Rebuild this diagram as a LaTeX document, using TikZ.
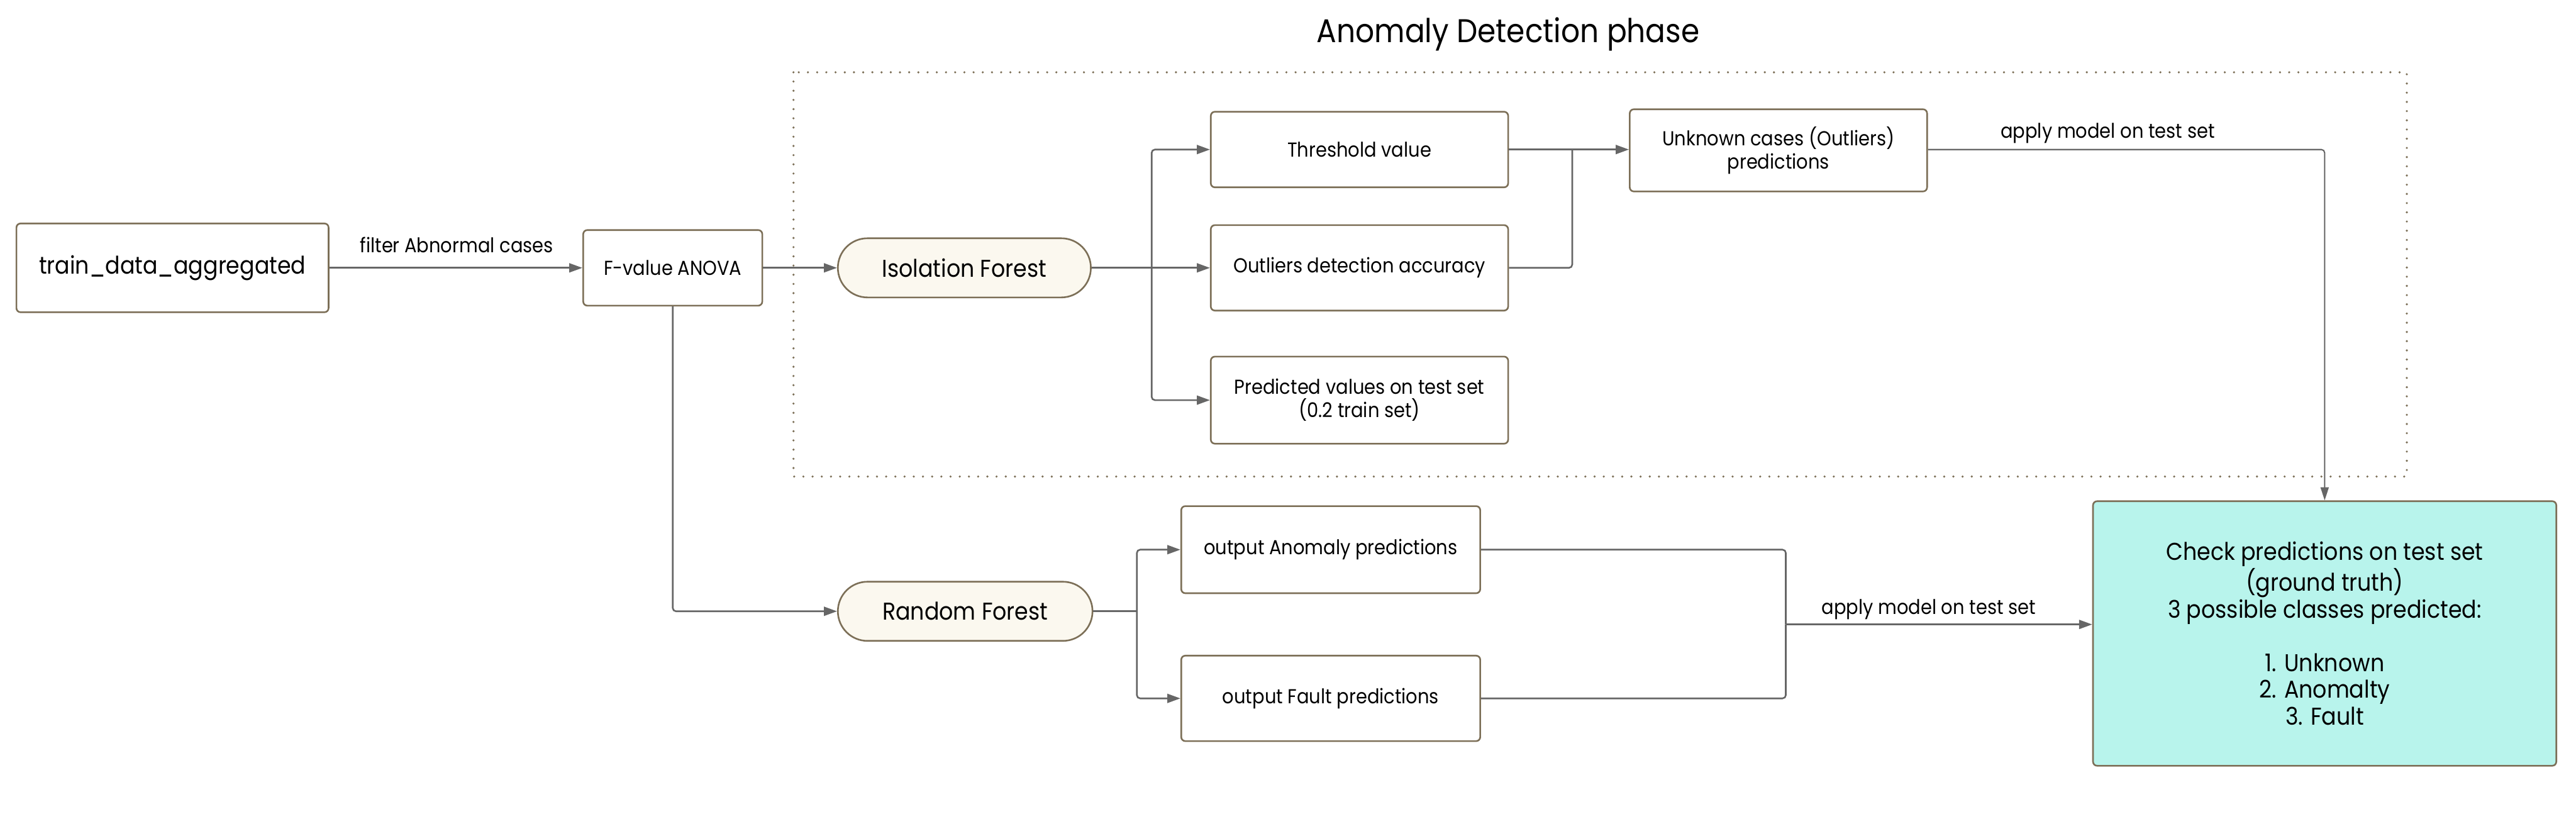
\documentclass[tikz,border=0pt]{standalone}
\usepackage{fontspec}
\setmainfont{Poppins}[FakeStretch=0.9]
\usetikzlibrary{arrows.meta,shapes.misc}
\definecolor{lineC}{HTML}{666666}
\definecolor{bordC}{HTML}{7C6F57}
\definecolor{pillC}{HTML}{FBF8EF}
\definecolor{chkC}{HTML}{B8F4EC}
\newcommand\smallf{\fontsize{12.3}{14.2}\selectfont}
\newcommand\bigf{\fontsize{14.8}{16.3}\selectfont}
\newcommand\titlef{\fontsize{20}{24}\selectfont}
\begin{document}
\begin{tikzpicture}[x=1pt,y=-1pt,
  conn/.style={draw=lineC, line width=1pt, rounded corners=2pt},
  arr/.style={conn, -{Triangle[length=8pt,width=5.5pt]}},
  box/.style={draw=bordC, line width=1pt, rounded corners=2.5pt, fill=white, align=center, inner sep=0pt, font=\smallf},
  pill/.style={draw=bordC, line width=1pt, rounded rectangle, fill=pillC, inner sep=0pt, font=\bigf},
  lbl/.style={font=\smallf, inner sep=0pt}]
\useasboundingbox (0,0) rectangle (1568,495);
% phase frame
\node[font=\titlef, inner sep=0pt] (title) at (918,21) {Anomaly Detection phase};
\draw[draw=bordC, line width=1.4pt, line cap=round, dash pattern=on 0pt off 5.6pt] (483,44) rectangle (1465,290);
% nodes
\node[box, font=\bigf, minimum width=190pt, minimum height=54pt] (trn) at (105,163) {train\_data\_aggregated};
\node[box, minimum width=109pt, minimum height=46pt] (fva) at (409.5,163) {F-value ANOVA};
\node[pill, minimum width=154pt, minimum height=36pt] (iso) at (587,163) {Isolation Forest};
\node[box, minimum width=181pt, minimum height=46pt] (thr) at (827.5,91) {Threshold value};
\node[box, minimum width=181pt, minimum height=52pt] (oda) at (827.5,163) {Outliers detection accuracy};
\node[box, minimum width=181pt, minimum height=53pt] (pred) at (827.5,243.5) {Predicted values on test set\\(0.2 train set)};
\node[box, minimum width=181pt, minimum height=50pt] (unk) at (1082.5,91.5) {Unknown cases (Outliers)\\predictions};
\node[box, fill=chkC, font=\bigf, minimum width=282pt, minimum height=161pt] (chk) at (1415,385.5) {Check predictions on test set\\(ground truth)\\3 possible classes predicted:\\[16.3pt]1. Unknown\\2. Anomalty\\3. Fault};
\node[pill, minimum width=155pt, minimum height=36pt] (rf) at (587.5,372) {Random Forest};
\node[box, minimum width=182pt, minimum height=53pt] (oan) at (810,334.5) {output Anomaly predictions};
\node[box, minimum width=182pt, minimum height=52pt] (oft) at (810,425) {output Fault predictions};
% junctions
\coordinate (br1) at (701,163);
\coordinate (j1) at (957,91);
\coordinate (br2) at (692,372);
\coordinate (j2) at (1087,380);
% connectors
\draw[arr] (trn.east) -- (fva.west);
\node[lbl] (l1) at (278,149) {filter Abnormal cases};
\draw[arr] (fva.east) -- (iso.west);
\draw[conn] (iso.east) -- (br1);
\draw[arr] (br1) |- (thr.west);
\draw[arr] (br1) -- (oda.west);
\draw[arr] (br1) |- (pred.west);
\draw[conn] (thr.east) -- (j1);
\draw[conn] (oda.east) -| (j1);
\draw[arr] (j1) -- (j1 -| unk.west);
\draw[conn, line width=0.8pt, -{Triangle[length=8pt,width=5pt]}] (unk.east |- j1) -| (chk.north);
\node[lbl] (l2) at (1283,81) {apply model on test set};
\draw[arr] (fva.south) |- (rf.west);
\draw[conn] (rf.east) -- (br2);
\draw[arr] (br2) |- (oan.west);
\draw[arr] (br2) |- (oft.west);
\draw[conn] (oan.east) -| (j2);
\draw[conn] (oft.east) -| (j2);
\draw[arr] (j2) -- (j2 -| chk.west);
\node[lbl] (l3) at (1174,371) {apply model on test set};
\end{tikzpicture}
\end{document}
